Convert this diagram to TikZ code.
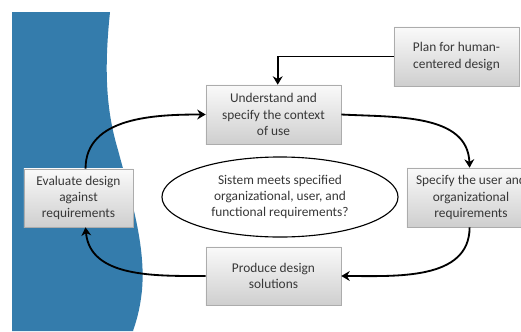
\documentclass[tikz,border=0pt]{standalone}
\usepackage{fontspec}
\setmainfont{Carlito}
\usetikzlibrary{arrows.meta, shapes.geometric, shadows}
\definecolor{wave}{RGB}{52,124,172}
\definecolor{boxtext}{RGB}{55,55,55}

\begin{document}
\begin{tikzpicture}[x=0.025cm, y=-0.025cm,
    stage/.style={rectangle, draw=gray!65, top color=gray!4, bottom color=gray!38,
      drop shadow={shadow xshift=1pt, shadow yshift=-1pt, opacity=0.35},
      align=center, text=boxtext, font=\fontsize{9.5}{11.6}\selectfont},
    goal/.style={ellipse, draw=black, thick, fill=white, align=center, text=boxtext,
      minimum width=5.9cm, minimum height=2cm, font=\fontsize{9.5}{11.6}\selectfont},
    line/.style={-{Stealth[length=6pt, width=7pt]}, line width=1.3pt}]
\clip (0,0) rectangle (521,331);
\useasboundingbox (0,0) rectangle (521,331);
% blue band on the left
\fill[wave] (12,12) -- (110,12) .. controls (104,70) and (106,110) .. (118,150)
  .. controls (130,195) and (146,245) .. (142,290)
  .. controls (140,310) and (136,322) .. (133,331) -- (12,331) -- cycle;
\node[stage, minimum width=3.125cm, minimum height=1.475cm] (plan) at (456.5,56.5) {Plan for human-\\centered design};
\node[stage, minimum width=3.375cm, minimum height=1.475cm] (context) at (273.5,114.5) {Understand and\\specify the context\\of use};
\node[stage, minimum width=3.2cm, minimum height=1.475cm] (reqs) at (471,197.5) {Specify the user and\\organizational\\requirements};
\node[stage, minimum width=3.375cm, minimum height=1.45cm] (produce) at (273.5,276) {Produce design\\solutions};
\node[stage, minimum width=2.725cm, minimum height=1.45cm] (evaluate) at (78.5,198) {Evaluate design\\against\\requirements};
\node[goal] (meets) at (280,197) {Sistem meets specified\\organizational, user, and\\functional requirements?};
\draw[line] (plan.west) -| ([xshift=3pt]context.north);
\draw[line] (context.east) to[out=-3, in=92] ([xshift=-1pt]reqs.north);
\draw[line] ([xshift=-1pt]reqs.south) to[out=-90, in=0] (produce.east);
\draw[line] (produce.west) to[out=180, in=-85] ([xshift=5pt]evaluate.south);
\draw[line] ([xshift=5pt]evaluate.north) to[out=90, in=180] (context.west);
\end{tikzpicture}
\end{document}
